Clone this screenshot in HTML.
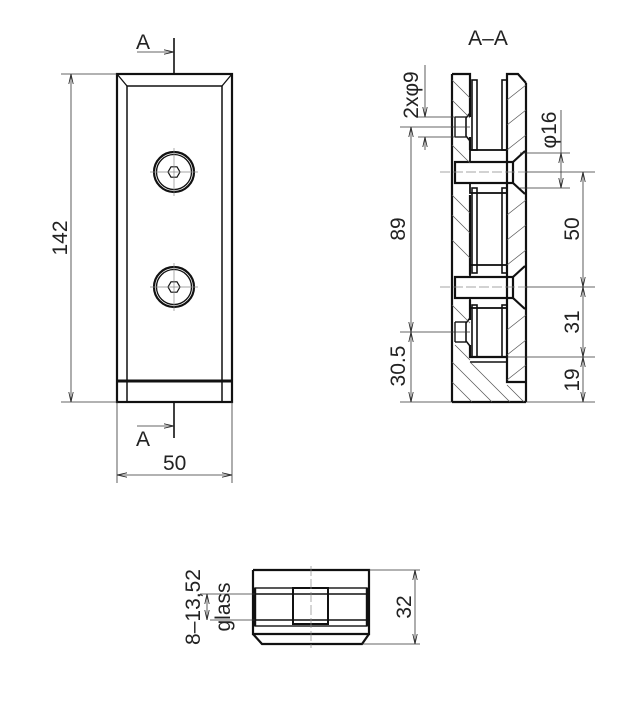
<!DOCTYPE html>
<html><head><style>body{margin:0;background:#fff}svg{display:block}text{font-family:"Liberation Sans Narrow","Liberation Sans",sans-serif;fill:#222}</style></head>
<body>
<svg width="620" height="701" viewBox="0 0 620 701" xmlns="http://www.w3.org/2000/svg">
<defs>
<marker id="ar" markerWidth="10" markerHeight="6" refX="10" refY="3" orient="auto-start-reverse" markerUnits="userSpaceOnUse"><path d="M0,0.8 L10,3 L0,5.2" fill="none" stroke="#222" stroke-width="0.8"/></marker>
</defs>
<g fill="none" stroke="#111" stroke-width="2.2">
<rect x="117" y="74" width="115" height="328"/>
<polyline points="127,402 127,86 222,86 222,402" stroke-width="1.5"/>
<line x1="117" y1="381" x2="232" y2="381" stroke-width="3"/>
<line x1="117" y1="74" x2="127" y2="86" stroke-width="1.3"/>
<line x1="232" y1="74" x2="222" y2="86" stroke-width="1.3"/>
<circle cx="174" cy="172" r="20"/><circle cx="174" cy="172" r="17.5" stroke-width="1.3"/>
<circle cx="174" cy="287" r="20"/><circle cx="174" cy="287" r="17.5" stroke-width="1.3"/>
<polygon points="180,172 177,177.2 171,177.2 168,172 171,166.8 177,166.8" stroke-width="1.2"/>
<polygon points="180,287 177,292.2 171,292.2 168,287 171,281.8 177,281.8" stroke-width="1.2"/>
<line x1="174" y1="38" x2="174" y2="74" stroke-width="1.6"/>
<line x1="174" y1="402" x2="174" y2="438" stroke-width="1.6"/>
<line x1="452" y1="74" x2="452" y2="402"/>
<line x1="526" y1="83" x2="526" y2="402"/>
<line x1="452" y1="402" x2="526" y2="402"/>
<polyline points="452,74 470,74 470,117"/>
<polyline points="470,137 470,150"/>
<polyline points="470,195 470,275"/>
<polyline points="470,300 470,320"/>
<polyline points="470,345 470,357 507,357 507,382 526,382"/>
<polyline points="470,362 507,362" stroke-width="1.4"/>
<polyline points="507,357 507,74 518,74 526,83"/>
<rect x="472" y="80" width="5" height="70" stroke-width="1.6"/>
<rect x="502" y="80" width="5" height="70" stroke-width="1.6"/>
<rect x="472" y="188" width="5" height="85" stroke-width="1.6"/>
<rect x="502" y="188" width="5" height="85" stroke-width="1.6"/>
<rect x="472" y="305" width="5" height="52" stroke-width="1.6"/>
<rect x="502" y="305" width="5" height="52" stroke-width="1.6"/>
<rect x="470" y="150" width="37" height="12" stroke-width="1.8"/>
<rect x="470" y="183" width="37" height="10" stroke-width="1.8"/>
<rect x="470" y="265" width="37" height="12" stroke-width="1.8"/>
<rect x="470" y="298" width="37" height="10" stroke-width="1.8"/>
<rect x="455" y="162" width="58" height="21"/>
<rect x="455" y="277" width="58" height="21"/>
<polyline points="513,162 525,151"/><polyline points="513,183 525,194"/>
<polyline points="513,277 525,266"/><polyline points="513,298 525,309"/>
<polyline points="470,113 466,118 466,136 470,141" stroke-width="1.6"/>
<polyline points="470,318 466,323 466,341 470,346" stroke-width="1.6"/>
<line x1="455" y1="117" x2="466" y2="117" stroke-width="1.4"/>
<line x1="455" y1="137" x2="466" y2="137" stroke-width="1.4"/>
<line x1="455" y1="117" x2="455" y2="137" stroke-width="1.4"/>
<line x1="455" y1="322" x2="466" y2="322" stroke-width="1.4"/>
<line x1="455" y1="342" x2="466" y2="342" stroke-width="1.4"/>
<line x1="455" y1="322" x2="455" y2="342" stroke-width="1.4"/>
<polyline points="253,570 369,570 369,634 253,634 253,570"/>
<polyline points="253,634 262,644 362,644 369,634"/>
<rect x="255" y="588" width="112" height="38" stroke-width="1.4"/>
<line x1="255" y1="594" x2="367" y2="594" stroke-width="1.4"/>
<line x1="255" y1="620" x2="367" y2="620" stroke-width="1.4"/>
<rect x="293" y="588" width="35" height="36" stroke-width="2"/>
<line x1="255" y1="588" x2="255" y2="626" stroke-width="2.4"/>
<line x1="367" y1="588" x2="367" y2="626" stroke-width="2.4"/>
</g>
<g stroke="#555" stroke-width="0.7">
<line x1="452" y1="80" x2="470" y2="98"/><line x1="452" y1="100" x2="470" y2="118"/>
<line x1="452" y1="145" x2="470" y2="163"/><line x1="452" y1="195" x2="470" y2="213"/>
<line x1="452" y1="215" x2="470" y2="233"/><line x1="452" y1="240" x2="470" y2="258"/>
<line x1="452" y1="305" x2="470" y2="323"/><line x1="455" y1="345" x2="470" y2="360"/>
<line x1="452" y1="362" x2="492" y2="402"/><line x1="470" y1="362" x2="510" y2="402"/>
<line x1="452" y1="382" x2="472" y2="402"/><line x1="507" y1="385" x2="524" y2="402"/>
<line x1="507" y1="100" x2="526" y2="85"/><line x1="507" y1="125" x2="526" y2="110"/>
<line x1="507" y1="150" x2="526" y2="135"/><line x1="507" y1="215" x2="526" y2="200"/>
<line x1="507" y1="240" x2="526" y2="225"/><line x1="507" y1="265" x2="526" y2="250"/>
<line x1="507" y1="330" x2="526" y2="315"/><line x1="507" y1="355" x2="526" y2="340"/>
<line x1="507" y1="380" x2="526" y2="365"/>
</g>
<g stroke="#888" stroke-width="0.7" fill="none">
<line x1="150" y1="172" x2="198" y2="172"/><line x1="174" y1="148" x2="174" y2="196"/>
<line x1="150" y1="287" x2="198" y2="287"/><line x1="174" y1="263" x2="174" y2="311"/>
<line x1="440" y1="172" x2="530" y2="172" stroke-dasharray="10,3"/>
<line x1="440" y1="287" x2="530" y2="287" stroke-dasharray="10,3"/>
<line x1="311" y1="566" x2="311" y2="648" stroke-dasharray="10,3"/>
</g>
<g stroke="#333" stroke-width="0.8" fill="none">
<line x1="137" y1="52" x2="174" y2="52" marker-end="url(#ar)"/>
<line x1="137" y1="426" x2="174" y2="426" marker-end="url(#ar)"/>
<line x1="61" y1="74" x2="117" y2="74"/><line x1="61" y1="402" x2="117" y2="402"/>
<line x1="71" y1="74" x2="71" y2="402" marker-start="url(#ar)" marker-end="url(#ar)"/>
<line x1="117" y1="402" x2="117" y2="483"/><line x1="232" y1="402" x2="232" y2="483"/>
<line x1="117" y1="475" x2="232" y2="475" marker-start="url(#ar)" marker-end="url(#ar)"/>
<line x1="400" y1="127" x2="470" y2="127"/><line x1="400" y1="332" x2="470" y2="332"/><line x1="400" y1="402" x2="452" y2="402"/>
<line x1="411" y1="127" x2="411" y2="332" marker-start="url(#ar)" marker-end="url(#ar)"/>
<line x1="411" y1="332" x2="411" y2="402" marker-start="url(#ar)" marker-end="url(#ar)"/>
<line x1="418" y1="117" x2="466" y2="117"/><line x1="418" y1="137" x2="466" y2="137"/>
<line x1="425" y1="65" x2="425" y2="117" marker-end="url(#ar)"/><line x1="425" y1="150" x2="425" y2="137" marker-end="url(#ar)"/>
<line x1="520" y1="153" x2="570" y2="153"/><line x1="520" y1="188" x2="570" y2="188"/>
<line x1="561" y1="110" x2="561" y2="153"/>
<line x1="561" y1="153" x2="561" y2="188" marker-start="url(#ar)" marker-end="url(#ar)"/>
<line x1="526" y1="172" x2="595" y2="172"/><line x1="526" y1="287" x2="595" y2="287"/>
<line x1="507" y1="357" x2="595" y2="357"/><line x1="526" y1="402" x2="595" y2="402"/>
<line x1="583" y1="172" x2="583" y2="287" marker-start="url(#ar)" marker-end="url(#ar)"/>
<line x1="583" y1="287" x2="583" y2="357" marker-start="url(#ar)" marker-end="url(#ar)"/>
<line x1="583" y1="357" x2="583" y2="402" marker-start="url(#ar)" marker-end="url(#ar)"/>
<line x1="369" y1="570" x2="420" y2="570"/><line x1="362" y1="644" x2="420" y2="644"/>
<line x1="415" y1="570" x2="415" y2="644" marker-start="url(#ar)" marker-end="url(#ar)"/>
<line x1="200" y1="594" x2="255" y2="594"/><line x1="210" y1="620" x2="255" y2="620"/>
<line x1="207" y1="594" x2="207" y2="620" marker-start="url(#ar)" marker-end="url(#ar)"/>
</g>
<g font-size="21">
<text x="136" y="49">A</text>
<text x="136" y="446">A</text>
<text x="163" y="470">50</text>
<text transform="translate(67,238) rotate(-90)" text-anchor="middle">142</text>
<text x="488" y="45" text-anchor="middle">A–A</text>
<text transform="translate(418,95) rotate(-90)" text-anchor="middle">2xφ9</text>
<text transform="translate(556,130) rotate(-90)" text-anchor="middle">φ16</text>
<text transform="translate(405,229) rotate(-90)" text-anchor="middle">89</text>
<text transform="translate(405,366) rotate(-90)" text-anchor="middle">30.5</text>
<text transform="translate(579,229) rotate(-90)" text-anchor="middle">50</text>
<text transform="translate(579,322) rotate(-90)" text-anchor="middle">31</text>
<text transform="translate(579,380) rotate(-90)" text-anchor="middle">19</text>
<text transform="translate(411,607) rotate(-90)" text-anchor="middle">32</text>
<text transform="translate(200,607) rotate(-90)" text-anchor="middle">8–13,52</text>
<text transform="translate(230,607) rotate(-90)" text-anchor="middle">glass</text>
</g>
</svg>
</body></html>
